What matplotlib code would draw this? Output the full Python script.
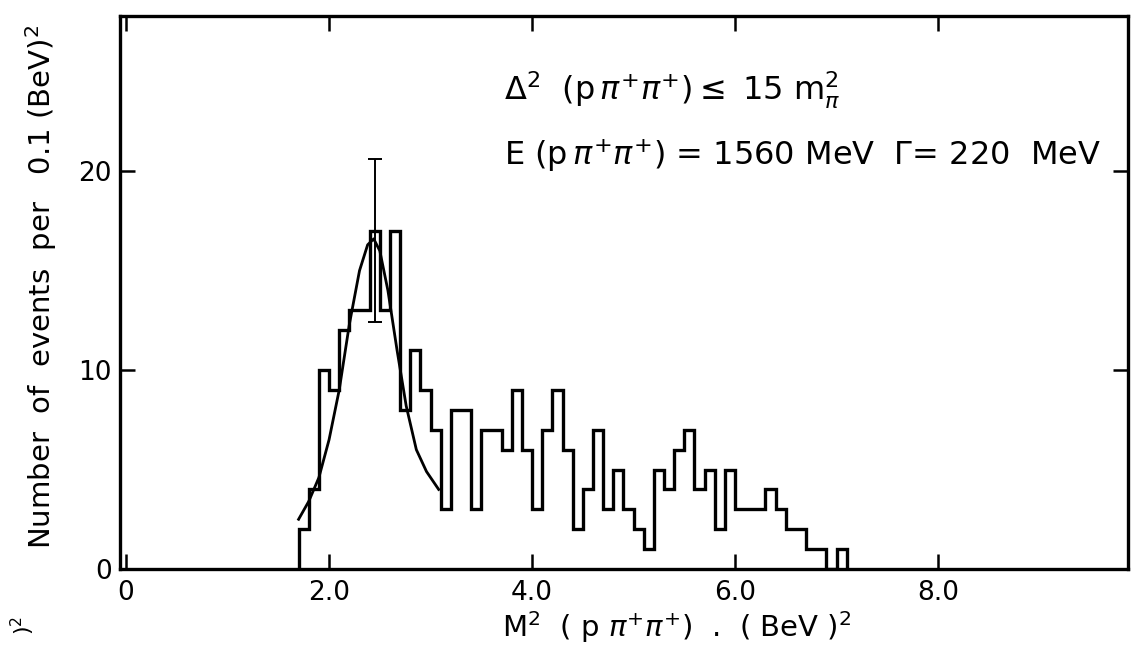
import numpy as np
import matplotlib
matplotlib.use("Agg")
import matplotlib.pyplot as plt

plt.rcParams['font.family'] = ['DejaVu Sans']
plt.rcParams['mathtext.fontset'] = 'dejavusans'

# histogram: events per 0.1 (BeV)^2, first bin starts at 1.7
bin_start = 1.7
bin_width = 0.1
counts = [2, 4, 10, 9, 12, 13, 13, 17, 13, 17,
          8, 11, 9, 7, 3, 8, 8, 3, 7, 7,
          6, 9, 6, 3, 7, 9, 6, 2, 4, 7,
          3, 5, 3, 2, 1, 5, 4, 6, 7, 4,
          5, 2, 5, 3, 3, 3, 4, 3, 2, 2,
          1, 1, 0, 1]

# fitted resonance curve
curve_x = [1.70, 1.80, 1.90, 2.00, 2.10, 2.20, 2.30, 2.38, 2.44, 2.50,
           2.58, 2.67, 2.76, 2.86, 2.96, 3.08]
curve_y = [2.5, 3.4, 4.6, 6.5, 9.0, 12.3, 15.0, 16.3, 16.6, 16.0,
           14.0, 11.0, 8.2, 6.0, 4.9, 4.0]

# error bar on the peak bin
err_x = 2.45
err_y = 17
err_lo = 4.6
err_hi = 3.6

xticks = [0, 2, 4, 6, 8]
xticklabels = ['0', '2.0', '4.0', '6.0', '8.0']
yticks = [0, 10, 20]
yticklabels = ['0', '10', '20']


def main():
    fig = plt.figure(figsize=(11.35, 6.52), dpi=100)
    ax = fig.add_axes([0.1057, 0.1273, 0.888, 0.848])

    edges = np.round(bin_start + bin_width * np.arange(len(counts) + 1), 2)
    ax.stairs(counts, edges, baseline=0, color='black', linewidth=2.4)

    ax.plot(curve_x, curve_y, color='black', linewidth=2.0)

    ax.errorbar([err_x], [err_y], yerr=[[err_lo], [err_hi]], fmt='none',
                ecolor='black', elinewidth=1.4, capsize=5, capthick=1.4)

    ax.set_xlim(-0.06, 9.87)
    ax.set_ylim(0, 27.8)

    ax.set_xticks(xticks)
    ax.set_xticklabels(xticklabels)
    ax.set_yticks(yticks)
    ax.set_yticklabels(yticklabels)
    ax.tick_params(direction='in', length=11, width=1.8, labelsize=19,
                   top=True, right=True)
    ax.tick_params(axis='x', pad=8)
    ax.tick_params(axis='y', pad=6)
    for s in ax.spines.values():
        s.set_linewidth(2.4)

    ax.text(3.72, 24.1, r'$\Delta^{2}$  (p$\,\pi^{+}\pi^{+}$)$\leq$ 15 m$^{2}_{\pi}$',
            fontsize=23, va='center', ha='left')
    ax.text(3.72, 20.8, r'E (p$\,\pi^{+}\pi^{+}$) = 1560 MeV  $\Gamma$= 220  MeV',
            fontsize=23, va='center', ha='left')

    fig.text(0.036, 0.56, r'Number  of  events  per   0.1 (BeV)$^{2}$',
             rotation=90, fontsize=21, ha='center', va='center')
    fig.text(0.596, 0.038, r'M$^{2}$  ( p $\pi^{+}\pi^{+}$)  .  ( BeV )$^{2}$',
             fontsize=21, ha='center', va='center')
    fig.text(0.02, 0.04, r')$^{2}$', rotation=90, fontsize=16,
             ha='center', va='center')

    fig.savefig('out.png', dpi=100)


main()
